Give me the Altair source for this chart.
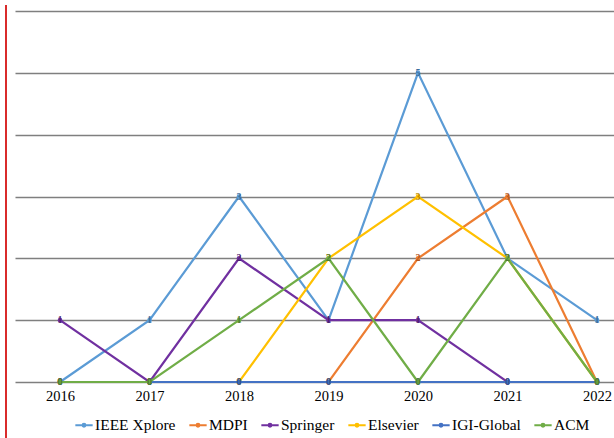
import altair as alt
import pandas as pd

years = [2016, 2017, 2018, 2019, 2020, 2021, 2022]
series = ["IEEE Xplore", "MDPI", "Springer", "Elsevier", "IGI-Global", "ACM"]
colors = ["#5B9BD5", "#ED7D31", "#7030A0", "#FFC000", "#4472C4", "#70AD47"]
label_colors = ["#3a6d9c", "#b0571c", "#4d1f70", "#b88a00", "#2f528c", "#4f7d30"]

ieee = [0, 1, 3, 1, 5, 2, 1]
mdpi = [0, 0, 0, 0, 2, 3, 0]
springer = [1, 0, 2, 1, 1, 0, 0]
elsevier = [0, 0, 0, 2, 3, 2, 0]
igi = [0, 0, 0, 0, 0, 0, 0]
acm = [0, 0, 1, 2, 0, 2, 0]

values = [ieee, mdpi, springer, elsevier, igi, acm]

rows = []
for s, vals in zip(series, values):
    for y, v in zip(years, vals):
        rows.append({"Year": y, "Source": s, "Count": v})
df = pd.DataFrame(rows)

SERIF = "Liberation Serif, Times New Roman, serif"

xscale = alt.Scale(domain=[2015.497, 2022.19], nice=False, zero=False)
yscale = alt.Scale(domain=[0, 6], nice=False)
cscale = alt.Scale(domain=series, range=colors)

xenc = alt.X("Year:Q", scale=xscale,
             axis=alt.Axis(values=years, format="d", grid=False, ticks=False,
                           domain=False, title=None, labelFont=SERIF,
                           labelFontSize=14.5, labelColor="#000000", labelPadding=7))
yenc = alt.Y("Count:Q", scale=yscale,
             axis=alt.Axis(values=[0, 1, 2, 3, 4, 5, 6], labels=False, ticks=False,
                           domain=False, title=None, grid=True, gridColor="#7f7f7f",
                           gridWidth=1.4))

base = alt.Chart(df)

layers = []
layers.append(
    base.mark_rule(color="#d92b2b", strokeWidth=2).encode(
        x=alt.value(-9), y=alt.value(-6), y2=alt.value(427)
    ).transform_filter(alt.datum.Year == 2016).transform_filter(alt.datum.Source == "IEEE Xplore")
)

legend_symbol = "M-1,0L1,0M-0.15,0a0.15,0.15 0 1,0 0.3,0a0.15,0.15 0 1,0 -0.3,0"

for i, s in enumerate(series):
    sub = base.transform_filter(alt.datum.Source == s)
    line = sub.mark_line(strokeWidth=2.2).encode(
        x=xenc, y=yenc,
        color=alt.Color("Source:N", scale=cscale, sort=series,
                        legend=alt.Legend(title=None, orient="none", direction="horizontal",
                                          legendX=59, legendY=404,
                                          symbolType=legend_symbol, symbolSize=300,
                                          symbolStrokeWidth=2.2,
                                          labelFont=SERIF, labelFontSize=15.5,
                                          labelColor="#000000", columnPadding=8,
                                          labelOffset=1, symbolOffset=0))
    )
    pts = sub.mark_circle(size=22, opacity=1, color=colors[i]).encode(x=xenc, y=yenc)
    txt = sub.mark_text(fontSize=10, fontWeight="bold", color=label_colors[i],
                        font=SERIF, baseline="middle", align="center").encode(
        x=xenc, y=yenc, text=alt.Text("Count:Q", format="d")
    )
    layers += [line, pts, txt]

chart = alt.layer(*layers).properties(
    width=599, height=371,
    autosize=alt.AutoSizeParams(type="none"),
    padding={"left": 15, "top": 11, "right": 0, "bottom": 56},
    background="#ffffff",
).configure_view(stroke=None)

chart.save("out.html", embed_options={"renderer": "svg", "actions": False})
